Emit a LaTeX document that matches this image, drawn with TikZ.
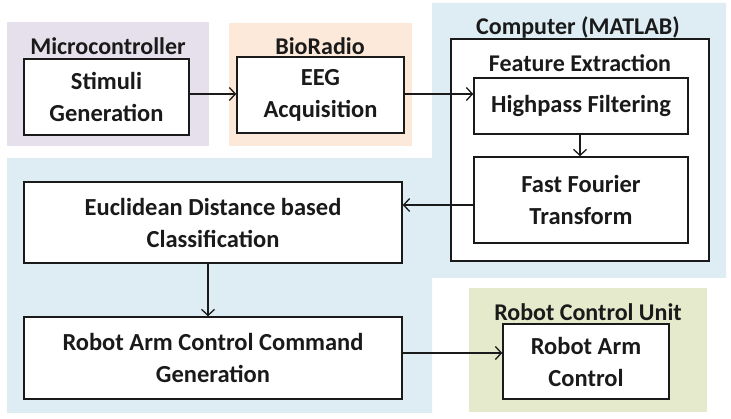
\documentclass[tikz,border=0pt]{standalone}
\usepackage{fontspec}
\setmainfont{Carlito}
\usetikzlibrary{arrows.meta}
\definecolor{bgblue}{HTML}{DDEDF3}
\definecolor{bgpurple}{HTML}{E6E0EC}
\definecolor{bgorange}{HTML}{FCE9DA}
\definecolor{bggreen}{HTML}{E4EACB}
\definecolor{ink}{HTML}{1A1A1A}
\tikzset{
  blk/.style={draw=ink, line width=1.5pt, fill=white, align=center, inner sep=0pt,
    font=\fontsize{24.5}{32}\selectfont\bfseries, text=ink},
  lbl/.style={font=\fontsize{24}{28}\selectfont\bfseries, text=ink, inner sep=0pt},
  arr/.style={draw=ink, line width=1.3pt, -{Straight Barb[length=6pt,width=13pt,line width=1.3pt]}}
}
\begin{document}
\begin{tikzpicture}[x=1pt,y=-1pt]
\useasboundingbox (0,0) rectangle (731,419);
\fill[white] (0,0) rectangle (731,419);
% background regions
\fill[bgblue] (432,3) -- (726,3) -- (726,278) -- (432,278) -- (432,413) -- (7,413) -- (7,158) -- (432,158) -- cycle;
\fill[bgpurple] (7,22) rectangle (209,146);
\fill[bgorange] (229,23) rectangle (412,146);
\fill[bggreen] (469,288) rectangle (707,412);
% outer computer box
\node[blk, minimum width=258pt, minimum height=222pt] (comp) at (580,150) {};
% labels
\node[lbl] (lmicro) at (108,46) {Microcontroller};
\node[lbl] (lbio) at (320,46) {BioRadio};
\node[lbl] (lcomp) at (578,27) {Computer (MATLAB)};
\node[lbl] (lfeat) at (580,63) {Feature Extraction};
\node[lbl] (lrcu) at (588,312) {Robot Control Unit};
% blocks
\node[blk, minimum width=165pt, minimum height=76pt] (stim) at (106.5,97) {Stimuli\\Generation};
\node[blk, minimum width=167pt, minimum height=76pt] (eeg) at (320.5,95) {EEG\\Acquisition};
\node[blk, minimum width=214pt, minimum height=56pt] (hp) at (581,106) {Highpass Filtering};
\node[blk, minimum width=214pt, minimum height=86pt] (fft) at (581,200) {Fast Fourier\\Transform};
\node[blk, minimum width=378pt, minimum height=81pt] (euc) at (213,222.5) {Euclidean Distance based\\Classification};
\node[blk, minimum width=378pt, minimum height=82pt] (racc) at (213,358) {Robot Arm Control Command\\Generation};
\node[blk, minimum width=166pt, minimum height=75pt] (arm) at (586,361.5) {Robot Arm\\Control};
% connectors
\draw[arr] ([yshift=3pt]stim.east) -- ([yshift=3pt]stim.east -| eeg.west);
\draw[arr] ([yshift=1pt]eeg.east) -- ([yshift=1pt]eeg.east -| hp.west);
\draw[arr] ([xshift=-1pt]hp.south) -- ([xshift=-1pt]fft.north);
\draw[arr] ([yshift=-5pt]fft.west) -- ([yshift=-5pt]fft.west -| euc.east);
\draw[arr] ([xshift=-5pt]euc.south) -- ([xshift=-5pt]racc.north);
\draw[arr] ([yshift=5pt]racc.east) -- ([yshift=5pt]racc.east -| arm.west);
\end{tikzpicture}
\end{document}
